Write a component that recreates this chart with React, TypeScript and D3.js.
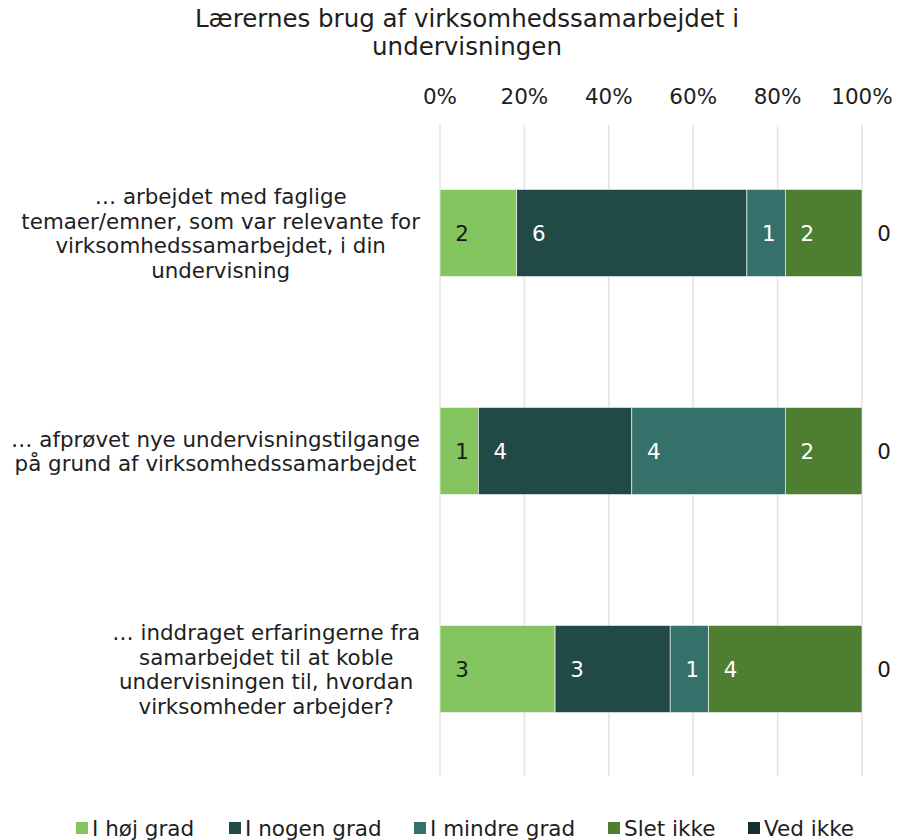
import * as d3 from 'd3'

const categories = [
  '… arbejdet med faglige|temaer/emner, som var relevante for|virksomhedssamarbejdet, i din|undervisning',
  '… afprøvet nye undervisningstilgange|på grund af virksomhedssamarbejdet',
  '… inddraget erfaringerne fra|samarbejdet til at koble|undervisningen til, hvordan|virksomheder arbejder?',
]
const seriesNames = ['I høj grad', 'I nogen grad', 'I mindre grad', 'Slet ikke', 'Ved ikke']
const hojGrad = [2, 1, 3]
const nogenGrad = [6, 4, 3]
const mindreGrad = [1, 4, 1]
const sletIkke = [2, 2, 4]
const vedIkke = [0, 0, 0]
const tickValues = [0, 0.2, 0.4, 0.6, 0.8, 1]

const colors = ['#85c55f', '#214946', '#35706b', '#4e7f30', '#17302d']
const labelColors = ['#1a1a1a', '#ffffff', '#ffffff', '#ffffff', '#1a1a1a']
const font = '"DejaVu Sans", Verdana, sans-serif'
const catSize = 21.4

// width of a text line, so each label block can be centred on its widest line
const ctx = document.createElement('canvas').getContext('2d')
function textWidth(s: string) {
  if (!ctx) return s.length * catSize * 0.55
  ctx.font = `${catSize}px ${font}`
  return ctx.measureText(s).width
}

export default function App() {
  const width = 897
  const height = 840
  const series = [hojGrad, nogenGrad, mindreGrad, sletIkke, vedIkke]
  const rows = categories.map((c, i) => {
    const r: any = { cat: c }
    seriesNames.forEach((s, j) => { r[s] = series[j][i] })
    return r
  })
  const stacked = d3.stack<any>().keys(seriesNames).offset(d3.stackOffsetExpand)(rows)

  const x = d3.scaleLinear().domain([0, 1]).range([440, 862])
  const y = d3.scaleBand().domain(categories).range([124, 778]).paddingInner(0.6).paddingOuter(0.3)

  const legendX = [76, 229, 414, 608, 748]

  return (
    <svg width={width} height={height} style={{ position: 'absolute', left: 0, top: 0, fontFamily: font }}>
      <rect width={width} height={height} fill="#fff" />
      <text x={467} y={27} textAnchor="middle" fontSize={24.5} fill="#1e1e1e">Lærernes brug af virksomhedssamarbejdet i</text>
      <text x={467} y={55} textAnchor="middle" fontSize={24.5} fill="#1e1e1e">undervisningen</text>

      {tickValues.map(t => (
        <g key={t}>
          <line x1={x(t)} x2={x(t)} y1={125} y2={776} stroke="#e2e2e2" strokeWidth={1.5} />
          <text x={x(t)} y={104} textAnchor="middle" fontSize={21.5} fill="#1e1e1e">{d3.format('.0%')(t)}</text>
        </g>
      ))}

      {categories.map(c => {
        const lines = c.split('|')
        const cy = (y(c) as number) + y.bandwidth() / 2
        const lh = 24.5
        const maxW = d3.max(lines, l => textWidth(l)) || 0
        const cx = 420 - maxW / 2
        return (
          <text key={c} textAnchor="middle" fontSize={catSize} fill="#1e1e1e">
            {lines.map((l, i) => (
              <tspan key={i} x={cx} y={cy + (i - (lines.length - 1) / 2) * lh + 8}>{l}</tspan>
            ))}
          </text>
        )
      })}

      {stacked.map((s, si) => (
        <g key={s.key}>
          {s.map((d, i) => (
            <rect key={i} x={x(d[0])} y={y(categories[i])} width={x(d[1]) - x(d[0])}
              height={y.bandwidth()} fill={colors[si]} stroke="#fff" strokeWidth={d[1] > d[0] ? 0.6 : 0} />
          ))}
          {s.map((d, i) => (
            <text key={'t' + i} x={x(d[0]) + 22} y={(y(categories[i]) as number) + y.bandwidth() / 2 + 8}
              textAnchor="middle" fontSize={catSize} fill={d[1] > d[0] ? labelColors[si] : '#1a1a1a'}>
              {series[si][i]}
            </text>
          ))}
        </g>
      ))}

      {seriesNames.map((s, i) => (
        <g key={s} transform={`translate(${legendX[i]},0)`}>
          <rect x={0} y={822} width={12} height={12} fill={colors[i]} />
          <text x={16} y={836} fontSize={21.5} fill="#1e1e1e">{s}</text>
        </g>
      ))}
    </svg>
  )
}
